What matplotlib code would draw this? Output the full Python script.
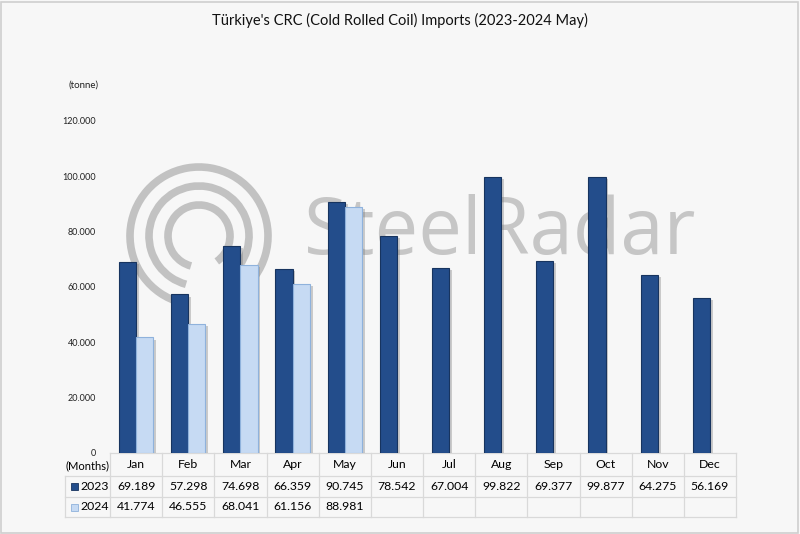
import matplotlib
matplotlib.use("Agg")
import matplotlib.pyplot as plt
import matplotlib.patheffects as pe
from matplotlib.patches import Arc, Rectangle
from matplotlib.lines import Line2D

months = ["Jan", "Feb", "Mar", "Apr", "May", "Jun", "Jul", "Aug", "Sep", "Oct", "Nov", "Dec"]
imports_2023 = [69189, 57298, 74698, 66359, 90745, 78542, 67004, 99822, 69377, 99877, 64275, 56169]
imports_2024 = [41774, 46555, 68041, 61156, 88981]
y_ticks = [0, 20000, 40000, 60000, 80000, 100000, 120000]

W, H = 800, 534
BG = "#f7f7f7"
DARK = "#234d8b"
LIGHT = "#c6daf3"
GRID = "#d9d9d9"
FONT = "Lato"

plt.rcParams["font.family"] = [FONT, "DejaVu Sans"]


def fx(px):
    return px / W


def fy(py):
    return 1 - py / H


def fmt(v):
    return f"{v:,}".replace(",", ".")


fig = plt.figure(figsize=(W / 100, H / 100), dpi=100, facecolor=BG)
fig.patches.append(Rectangle((0.001, 0.002), 0.997, 0.995, transform=fig.transFigure,
                             fill=False, edgecolor="#cfcfcf", lw=1.2))

# watermark (logo + name) behind the plot
for r in (69, 50, 31):
    fig.patches.append(Arc((199, H - 236), 2 * r, 2 * r, theta1=-55, theta2=255,
                           transform=None, color="#c2c2c2", lw=5.5, zorder=0))
fig.text(fx(500), fy(233), "SteelRadar", ha="center", va="center", fontsize=56,
         color="#c6c6c6", family="Open Sans", zorder=0)

left, right, top, bottom = 110, 736, 121, 453
ax = fig.add_axes([fx(left), fy(bottom), fx(right - left), fy(top) - fy(bottom)])
ax.set_facecolor("none")
ax.set_zorder(2)

n = len(months)
xs = list(range(n))
bw = 0.33
shadow = [pe.SimplePatchShadow(offset=(2, -1.5), alpha=0.35, shadow_rgbFace="#777777"), pe.Normal()]
b1 = ax.bar([x - bw / 2 for x in xs], imports_2023, bw, color=DARK, edgecolor="#17345f", lw=0.8)
b2 = ax.bar([x + bw / 2 for x in xs[:len(imports_2024)]], imports_2024, bw,
            color=LIGHT, edgecolor="#8fb2dc", lw=0.8)
for p in list(b1) + list(b2):
    p.set_path_effects(shadow)

ax.set_xlim(-0.5, n - 0.5)
ax.set_ylim(0, 120000)
ax.set_yticks(y_ticks)
ax.set_yticklabels([fmt(v) for v in y_ticks], fontsize=6.5, color="#222222")
ax.tick_params(axis="y", length=0, pad=10)
ax.set_xticks([])
for s in ax.spines.values():
    s.set_visible(False)

fig.text(fx(84), fy(85), "(tonne)", ha="center", va="center", fontsize=7, color="#222222")
fig.text(0.5, fy(20), "Türkiye's CRC (Cold Rolled Coil) Imports (2023-2024 May)",
         ha="center", va="center", fontsize=10.5, color="#111111")

# data table under the axis
col_w = (right - left) / n
row_y = [453, 476, 497, 517]
lab_l = 65


def hline(y, x0, x1):
    fig.add_artist(Line2D([fx(x0), fx(x1)], [fy(y), fy(y)], color=GRID, lw=0.9))


def vline(x, y0, y1):
    fig.add_artist(Line2D([fx(x), fx(x)], [fy(y0), fy(y1)], color=GRID, lw=0.9))


hline(row_y[0], left, right)
for y in row_y[1:]:
    hline(y, lab_l, right)
for i in range(n + 1):
    vline(left + i * col_w, row_y[0], row_y[3])
vline(lab_l, row_y[1], row_y[3])

fs = 8.8
for i, m in enumerate(months):
    cx = left + (i + 0.5) * col_w
    fig.text(fx(cx), fy((row_y[0] + row_y[1]) / 2), m, ha="center", va="center", fontsize=fs)
    fig.text(fx(cx), fy((row_y[1] + row_y[2]) / 2), fmt(imports_2023[i]), ha="center", va="center", fontsize=fs)
    if i < len(imports_2024):
        fig.text(fx(cx), fy((row_y[2] + row_y[3]) / 2), fmt(imports_2024[i]), ha="center", va="center", fontsize=fs)

fig.text(fx(88), fy((row_y[0] + row_y[1]) / 2 + 1), "(Months)", ha="center", va="center", fontsize=8)
for k, (label, face, edge) in enumerate([("2023", DARK, "#17345f"), ("2024", LIGHT, "#8fb2dc")]):
    yc = (row_y[k + 1] + row_y[k + 2]) / 2
    fig.patches.append(Rectangle((fx(71), fy(yc + 3.5)), fx(7), fy(0) - fy(7), transform=fig.transFigure,
                                 facecolor=face, edgecolor=edge, lw=0.6))
    fig.text(fx(95), fy(yc), label, ha="center", va="center", fontsize=fs)

fig.savefig("out.png", dpi=100, facecolor=BG)
